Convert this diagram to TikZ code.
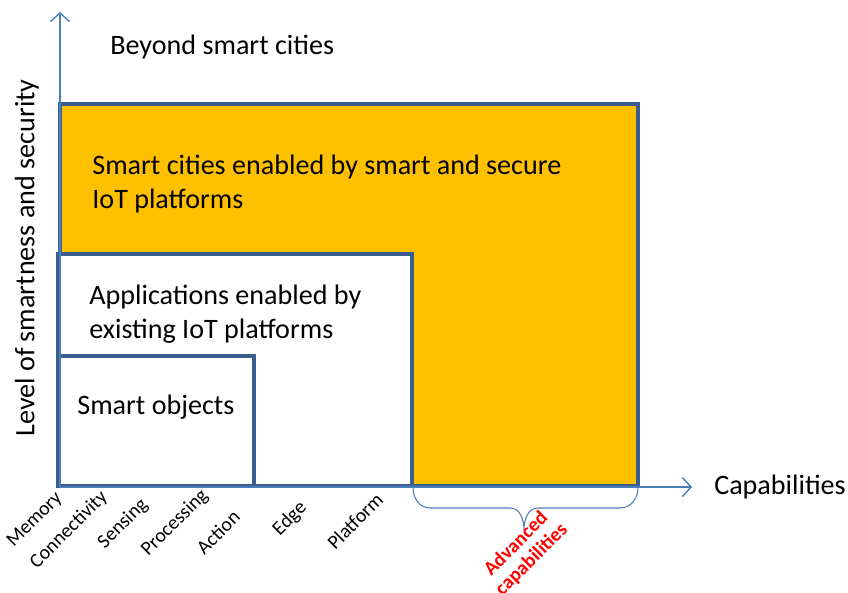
\documentclass[tikz,border=0pt]{standalone}
\usepackage{fontspec}
\setmainfont{Carlito}
\usetikzlibrary{arrows.meta}
\definecolor{boxblue}{HTML}{3A5F8F}
\definecolor{axisblue}{HTML}{4A7EBB}
\definecolor{iotorange}{HTML}{FFC000}

\begin{document}
\begin{tikzpicture}
	[x=0.02cm, y=0.02cm,
	 level/.style={draw=boxblue, line width=2.2pt},
	 axis/.style={draw=axisblue, line width=0.8pt, -{Straight Barb[length=5pt, width=11pt]}},
	 boxtext/.style={anchor=west, align=left, inner sep=0pt, font=\fontsize{16}{19}\selectfont},
	 captext/.style={rotate=45, inner sep=0pt, font=\fontsize{11.3}{12.5}\selectfont}]

	\useasboundingbox (0,0) rectangle (848,592);

	%Levels
	\draw[level, fill=iotorange] (60,488) rectangle (638,106);
	\draw[level, fill=white] (58,338) rectangle (412,106);
	\draw[level, fill=white] (58,236) rectangle (254,106);

	%Axis
	\coordinate (o) at (60,105);
	\coordinate (x) at (692,105);
	\coordinate (y) at (60,580);
	\draw[axis] (o) -- (x);
	\draw[axis] (o) -- (y);
	\node[boxtext, anchor=center] (xlabel) at (780,105) {Capabilities};
	\node[boxtext, rotate=90, anchor=center] (ylabel) at (27,334) {Level of smartness and security};

	\node[boxtext] (beyond) at (110,545) {Beyond smart cities};
	\node[boxtext] (smartcities) at (92,408) {Smart cities enabled by smart and secure\\IoT platforms};
	\node[boxtext] (apps) at (89,278) {Applications enabled by\\existing IoT platforms};
	\node[boxtext] (objects) at (77,185) {Smart objects};

	%Capabilities
	\foreach \name/\px/\py in {Memory/35/72, Connectivity/69/62, Sensing/123/68, Processing/175/69, Action/218/60, Edge/290/73, Platform/355/71}
		\node[captext] (\name) at (\px,\py) {\name};

	\draw[axisblue, line width=0.6pt] (413,104) to[out=-90,in=180] (430,84) -- (510,84) to[out=0,in=90] (524,62) to[out=90,in=180] (538,84) -- (620,84) to[out=0,in=-90] (638,104);
	\node[captext, text=red, align=center, font=\fontsize{11.3}{12.5}\bfseries] (advanced) at (524,40) {Advanced\\capabilities};
\end{tikzpicture}
\end{document}
